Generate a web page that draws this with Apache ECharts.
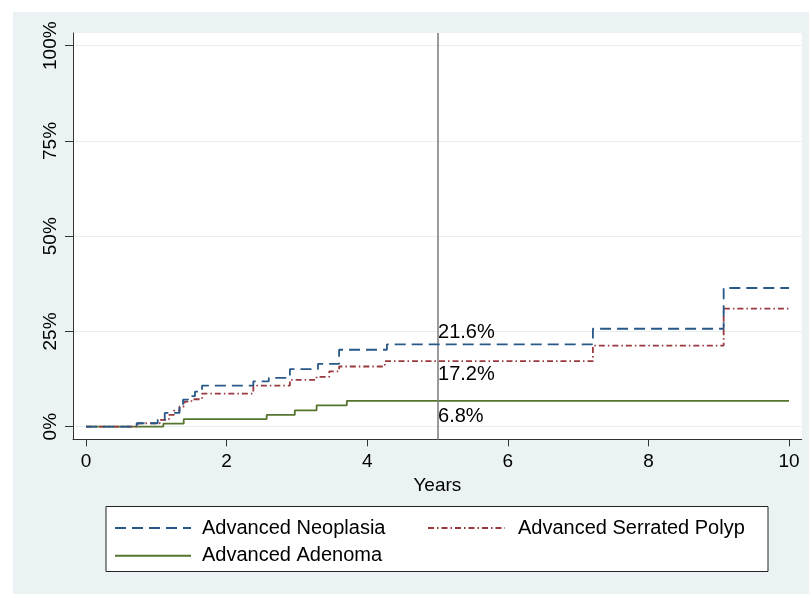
<!DOCTYPE html>
<html>
<head>
<meta charset="utf-8">
<script src="https://cdn.jsdelivr.net/npm/echarts@6/dist/echarts.min.js"></script>
<style>
html,body{margin:0;padding:0;background:#fff;}
#c{width:809px;height:594px;}
</style>
</head>
<body>
<div id="c"></div>
<script>
// ---- data ----
var seriesNames = ['Advanced Neoplasia', 'Advanced Serrated Polyp', 'Advanced Adenoma'];
var xTicks = [0, 2, 4, 6, 8, 10];
var yTicks = [0, 25, 50, 75, 100];

var neoplasiaT = [0, 0.72, 1.02, 1.12, 1.33, 1.38, 1.45, 1.55, 1.65, 2.38, 2.6, 2.9, 3.3, 3.6, 4.28, 7.21, 9.07, 10];
var neoplasiaV = [0, 0.9, 1.8, 3.6, 5.2, 7.1, 8.0, 9.2, 10.8, 11.9, 12.8, 15.1, 16.5, 20.2, 21.6, 25.7, 36.4, 36.4];

var serratedT = [0, 0.74, 1.05, 1.18, 1.25, 1.33, 1.4, 1.5, 1.65, 2.38, 2.9, 3.28, 3.46, 3.6, 4.25, 7.21, 9.07, 10];
var serratedV = [0, 0.9, 1.8, 3.1, 4.2, 5.3, 6.6, 7.2, 8.7, 10.8, 12.3, 13.1, 14.5, 15.8, 17.2, 21.3, 31.0, 31.0];

var adenomaT = [0, 1.1, 1.39, 2.57, 2.97, 3.28, 3.71, 10];
var adenomaV = [0, 0.8, 2.0, 3.1, 4.3, 5.6, 6.8, 6.8];

var refYear = 5;
var annotValues = [21.6, 17.2, 6.8];
var annotLabels = ['21.6%', '17.2%', '6.8%'];

// ---- build ----
function pairs(t, v) { return t.map(function (x, i) { return [x, v[i]]; }); }
var FONT = '"Liberation Sans", Arial, Helvetica, sans-serif';
var annotOffsets = [[-1, -12], [-1, 13], [-1, 16]];

var chart = echarts.init(document.getElementById('c'), null, { renderer: 'canvas' });

var option = {
  animation: false,
  backgroundColor: '#ffffff',
  textStyle: { fontFamily: FONT },
  graphic: [
    { type: 'rect', z: -10, silent: true, shape: { x: 13, y: 12, width: 796, height: 582 }, style: { fill: '#eaf2f3' } },
    { type: 'rect', z: 1, silent: true, shape: { x: 106, y: 506.5, width: 662, height: 65 }, style: { fill: '#ffffff', stroke: '#222222', lineWidth: 1 } }
  ],
  grid: {
    left: 73, right: 7.3, top: 33, bottom: 154.7,
    show: true, backgroundColor: '#ffffff', borderWidth: 0
  },
  xAxis: {
    type: 'value', min: -0.185, max: 10.18,
    name: 'Years', nameLocation: 'middle', nameGap: 33,
    nameTextStyle: { fontSize: 19, color: '#000', fontFamily: FONT },
    axisLine: { show: true, onZero: false, lineStyle: { color: '#333', width: 1 } },
    axisTick: { show: true, customValues: xTicks, length: 7, lineStyle: { color: '#333' } },
    axisLabel: { customValues: xTicks, fontSize: 19, color: '#000', margin: 13, fontFamily: FONT },
    splitLine: { show: false }
  },
  yAxis: {
    type: 'value', min: -3.31, max: 103.33,
    axisLine: { show: true, onZero: false, lineStyle: { color: '#333', width: 1 } },
    axisTick: { show: true, customValues: yTicks, length: 8, lineStyle: { color: '#333' } },
    axisLabel: { customValues: yTicks, rotate: 90, fontSize: 19, color: '#000', margin: 13, fontFamily: FONT,
      formatter: function (v) { return v + '%'; } },
    splitLine: { show: true, lineStyle: { color: '#e6eff0', width: 1.2 } }
  },
  legend: [
    {
      data: [seriesNames[0], seriesNames[2]], orient: 'vertical', left: 109, top: 513,
      itemWidth: 76, itemHeight: 14, itemGap: 7.8, selectedMode: false, z: 5,
      itemStyle: { opacity: 0 },
      textStyle: { fontSize: 20, color: '#000', fontFamily: FONT, padding: [0, 0, 0, 6] }
    },
    {
      data: [seriesNames[1]], orient: 'vertical', left: 422, top: 513,
      itemWidth: 77, itemHeight: 14, selectedMode: false, z: 5,
      itemStyle: { opacity: 0 },
      textStyle: { fontSize: 20, color: '#000', fontFamily: FONT, padding: [0, 0, 0, 8] }
    }
  ],
  series: [
    {
      name: seriesNames[2], type: 'line', step: 'end', symbol: 'none',
      data: pairs(adenomaT, adenomaV),
      lineStyle: { color: '#55752f', width: 1.8, type: 'solid' },
      itemStyle: { color: '#55752f' }, z: 3
    },
    {
      name: seriesNames[1], type: 'line', step: 'end', symbol: 'none',
      data: pairs(serratedT, serratedV),
      lineStyle: { color: '#98393f', width: 1.8, type: [6, 3, 1.5, 3] },
      itemStyle: { color: '#98393f' }, z: 4
    },
    {
      name: seriesNames[0], type: 'line', step: 'end', symbol: 'none',
      data: pairs(neoplasiaT, neoplasiaV),
      lineStyle: { color: '#285888', width: 1.8, type: [11, 6] },
      itemStyle: { color: '#285888' }, z: 5,
      markLine: {
        silent: true, symbol: ['none', 'none'], label: { show: false },
        lineStyle: { color: '#7a7a7a', width: 1.5, type: 'solid' },
        data: [{ xAxis: refYear }]
      }
    },
    {
      name: 'annot', type: 'scatter', symbol: 'circle', symbolSize: 1, z: 6,
      data: annotValues.map(function (v, i) {
        return {
          value: [refYear, v],
          label: {
            show: true, position: 'right', distance: 1, offset: annotOffsets[i],
            formatter: annotLabels[i], fontSize: 20, color: '#000', opacity: 1,
            textBorderWidth: 0, fontFamily: FONT
          }
        };
      }),
      itemStyle: { color: 'rgba(0,0,0,0)' }, silent: true
    }
  ]
};
chart.setOption(option);
</script>
</body>
</html>
